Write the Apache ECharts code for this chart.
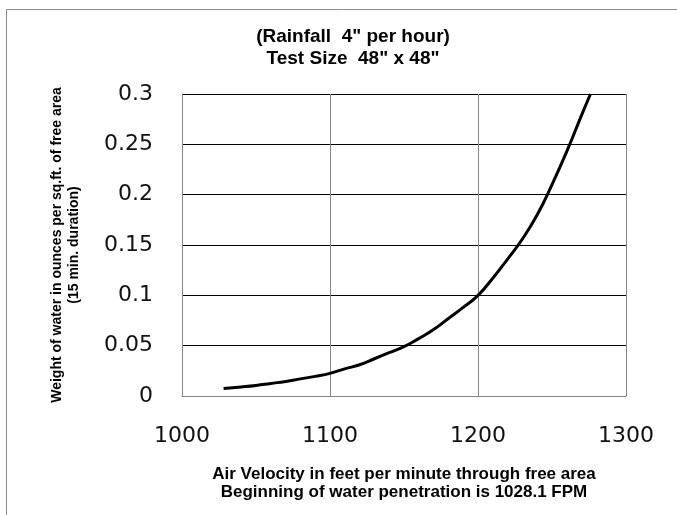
<!DOCTYPE html>
<html lang="en">

<head>
  <meta charset="UTF-8">
  <title>Water penetration</title>
  <style>
    html, body { margin: 0; padding: 0; background: #fff; }
    #main { width: 677px; height: 515px; }
  </style>
</head>

<body>
  <div id="main"></div>
</body>
<script src="https://cdn.jsdelivr.net/npm/echarts@6/dist/echarts.min.js"></script>
<script>
  // air velocity (FPM) and weight of water (oz per sq.ft.)
  var velocity = [1028.1, 1040, 1050, 1060, 1070, 1080, 1090, 1100, 1110, 1120, 1130, 1140, 1150,
    1160, 1170, 1180, 1190, 1200, 1210, 1220, 1230, 1240, 1250, 1260, 1270, 1276];
  var weight = [0.0075, 0.009, 0.0105, 0.0125, 0.0145, 0.017, 0.0195, 0.0225, 0.027, 0.031, 0.037, 0.043, 0.049,
    0.057, 0.066, 0.077, 0.088, 0.100, 0.117, 0.136, 0.156, 0.180, 0.210, 0.243, 0.279, 0.300];

  var titleLines = ['(Rainfall  4" per hour)', 'Test Size  48" x 48"'];
  var xName = ['Air Velocity in feet per minute through free area', 'Beginning of water penetration is 1028.1 FPM'];
  var yName = ['Weight of water in ounces per sq.ft. of free area', '(15 min. duration)'];

  var points = velocity.map(function (v, i) { return [v, weight[i]]; });

  var chart = echarts.init(document.getElementById('main'));
  var grey = '#868686';

  var option = {
    animation: false,
    graphic: [
      {
        type: 'rect',
        shape: { x: 6.5, y: 9.5, width: 720, height: 600 },
        style: { fill: 'none', stroke: '#8c8c8c', lineWidth: 1 },
        silent: true
      }
    ],
    title: {
      text: titleLines.join('\n'),
      left: 348,
      top: 21,
      textAlign: 'center',
      textStyle: {
        fontFamily: 'Liberation Sans',
        fontWeight: 'bold',
        fontSize: 19,
        lineHeight: 22,
        color: '#000'
      }
    },
    grid: {
      left: 182,
      right: 51,
      top: 94,
      bottom: 119
    },
    xAxis: {
      type: 'value',
      min: 1000,
      max: 1300,
      interval: 100,
      name: xName.join('\n'),
      nameLocation: 'middle',
      nameGap: 69,
      nameTextStyle: {
        fontFamily: 'Liberation Sans',
        fontWeight: 'bold',
        fontSize: 17,
        lineHeight: 18,
        color: '#000'
      },
      axisLine: { show: true, lineStyle: { color: grey, width: 1 } },
      axisTick: { show: false },
      axisLabel: {
        margin: 29,
        fontFamily: 'DejaVu Sans',
        fontSize: 22,
        color: '#111',
        formatter: function (v) { return String(v); }
      },
      splitLine: { show: true, lineStyle: { color: grey, width: 1 } }
    },
    yAxis: {
      type: 'value',
      min: 0,
      max: 0.3,
      interval: 0.05,
      name: yName.join('\n'),
      nameLocation: 'middle',
      nameRotate: 90,
      nameGap: 99,
      nameTextStyle: {
        fontFamily: 'Liberation Sans',
        fontWeight: 'bold',
        fontSize: 14,
        lineHeight: 17,
        color: '#000'
      },
      axisLine: { show: true, lineStyle: { color: grey, width: 1 } },
      axisTick: { show: false },
      axisLabel: {
        margin: 29,
        fontFamily: 'DejaVu Sans',
        fontSize: 22,
        color: '#111'
      },
      splitLine: { show: true, showMinLine: false, lineStyle: { color: '#000', width: 1 } }
    },
    series: [
      {
        type: 'line',
        data: points,
        symbol: 'none',
        smooth: true,
        lineStyle: { color: '#000', width: 3 }
      }
    ]
  };

  chart.setOption(option);
</script>

</html>
